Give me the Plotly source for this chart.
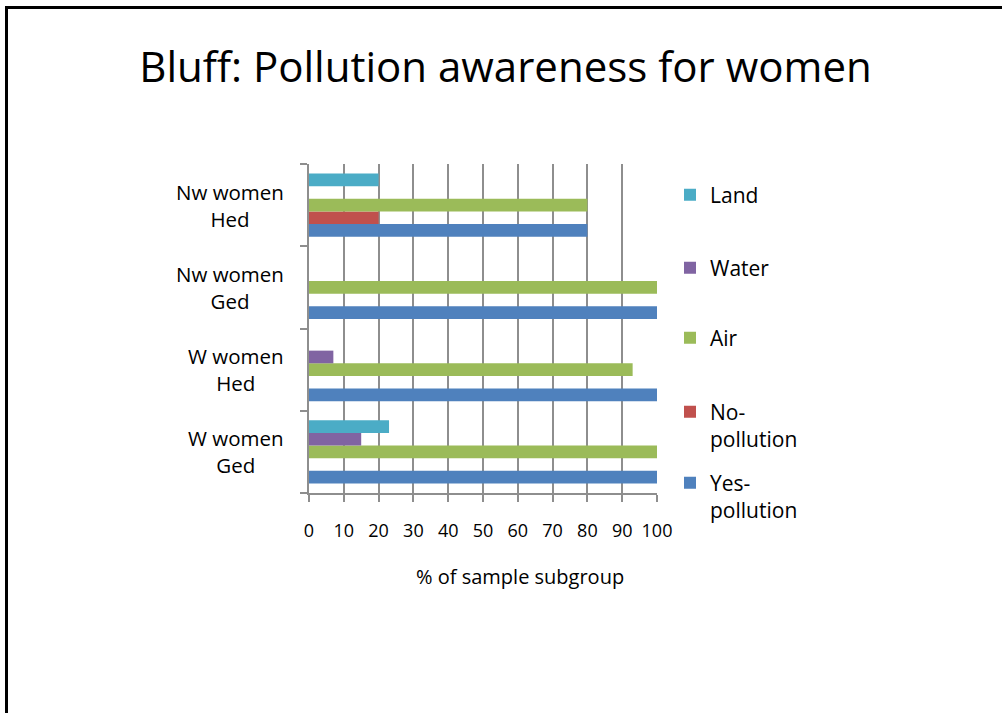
import plotly.graph_objects as go

categories = ["W women<br>Ged", "W women<br>Hed", "Nw women<br>Ged", "Nw women<br>Hed"]
yes_pollution = [100, 100, 100, 80]
no_pollution = [0, 0, 0, 20]
air = [100, 93, 100, 80]
water = [15, 7, 0, 0]
land = [23, 0, 0, 20]

series_names = ["Yes-<br>pollution", "No-<br>pollution", "Air", "Water", "Land"]
series_values = [yes_pollution, no_pollution, air, water, land]
series_colors = ["#4F81BD", "#C0504D", "#9BBB59", "#8064A2", "#4BACC6"]
x_ticks = [0, 10, 20, 30, 40, 50, 60, 70, 80, 90, 100]

W, H = 1002, 713
FONT = "Open Sans"

fig = go.Figure()
legend_ids = ["legend5", "legend4", "legend3", "legend2", "legend"]
for name, vals, col, lid in zip(series_names, series_values, series_colors, legend_ids):
    fig.add_trace(go.Bar(
        y=categories, x=vals, name=name, orientation="h",
        marker=dict(color=col, line=dict(width=0)),
        legend=lid,
    ))

# legend centers (pixel y) for Land, Water, Air, No-pollution, Yes-pollution
legend_centers = {"legend": 195, "legend2": 268, "legend3": 338, "legend4": 425.5, "legend5": 496.5}
legend_layout = {}
for lid, cy in legend_centers.items():
    legend_layout[lid] = dict(
        x=670 / W, xanchor="left", y=1 - cy / H, yanchor="middle",
        font=dict(family=FONT, size=21, color="#000000"),
        bgcolor="rgba(0,0,0,0)", borderwidth=0, valign="top",
        itemwidth=30, tracegroupgap=0,
    )

annotations = []
for c in categories:
    annotations.append(dict(
        x=286 / W, xref="paper", xanchor="right", y=c, yref="y",
        text=c, showarrow=False, align="center",
        font=dict(family=FONT, size=20.5, color="#000000"),
    ))
annotations.append(dict(
    x=519.5 / W, xref="paper", xanchor="center", y=1 - 576 / H, yref="paper",
    yanchor="middle", text="% of sample subgroup", showarrow=False,
    font=dict(family=FONT, size=20, color="#000000"),
))

shapes = [
    dict(type="line", xref="paper", yref="paper", x0=6.5 / W, x1=6.5 / W,
         y0=1 - 7.5 / H, y1=0, line=dict(color="#000000", width=3)),
    dict(type="line", xref="paper", yref="paper", x0=5 / W, x1=1,
         y0=1 - 7.5 / H, y1=1 - 7.5 / H, line=dict(color="#000000", width=3)),
]

fig.update_layout(
    template="none",
    width=W, height=H, autosize=False,
    margin=dict(l=0, r=0, t=0, b=0, autoexpand=False),
    paper_bgcolor="#FFFFFF", plot_bgcolor="#FFFFFF",
    barmode="group", bargap=0.23, bargroupgap=0,
    title=dict(text="Bluff: Pollution awareness for women",
               x=505.5 / W, xanchor="center", y=1 - 67 / H, yanchor="middle",
               font=dict(family=FONT, size=42, color="#000000")),
    xaxis=dict(
        domain=[309 / W, 657 / W], range=[0, 100],
        tickvals=x_ticks, ticktext=[str(v) for v in x_ticks],
        showgrid=True, gridcolor="#8E8E8E", gridwidth=1.5,
        showline=True, linecolor="#8E8E8E", linewidth=1.5,
        ticks="outside", ticklen=7, tickcolor="#8E8E8E", tickwidth=1.5,
        ticklabelstandoff=14, automargin=False,
        tickfont=dict(family=FONT, size=18, color="#000000"),
        zeroline=False, fixedrange=True,
    ),
    yaxis=dict(
        domain=[1 - 493 / H, 1 - 164 / H],
        categoryorder="array", categoryarray=categories,
        showticklabels=False, showgrid=False, automargin=False,
        showline=True, linecolor="#8E8E8E", linewidth=1.5,
        ticks="outside", ticklen=7, tickcolor="#8E8E8E", tickwidth=1.5,
        tickson="boundaries", zeroline=False, fixedrange=True,
    ),
    annotations=annotations,
    shapes=shapes,
    showlegend=True,
    **legend_layout,
)

fig.write_html("out.html", config={"displayModeBar": False},
               post_script="document.body.style.margin='0px';")
